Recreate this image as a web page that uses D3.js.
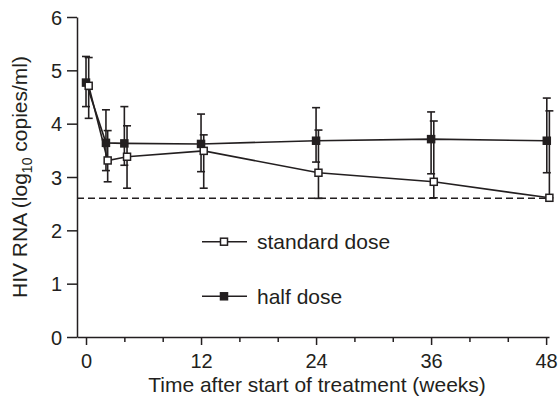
<!DOCTYPE html>
<html>
<head>
<meta charset="utf-8">
<script src="https://cdn.jsdelivr.net/npm/d3@7"></script>
<style>
  body { margin: 0; background: #fff; }
  svg { display: block; font-family: "Liberation Sans", Arial, sans-serif; }
  .axis path, .axis line { stroke: #231f20; stroke-width: 1.5; }
  .axis text { fill: #231f20; font-size: 20px; font-family: "Liberation Sans", Arial, sans-serif; }
</style>
</head>
<body>
<svg id="chart" width="558" height="408"></svg>
<script>
// data
var halfWeeks = [0, 2.08, 4, 12, 24, 36, 48.07];
var halfMean  = [4.77, 3.64, 3.63, 3.62, 3.68, 3.71, 3.68];
var halfUpper = [5.26, 4.26, 4.32, 4.18, 4.30, 4.22, 4.48];
var halfLower = [4.32, 3.12, 3.22, 3.10, 3.28, 3.06, 3.08];

var stdWeeks = [0.28, 2.26, 4.28, 12.28, 24.25, 36.28, 48.34];
var stdMean  = [4.71, 3.31, 3.38, 3.49, 3.08, 2.91, 2.61];
var stdUpper = [5.24, 3.87, 3.96, 3.79, 3.88, 4.05, 4.24];
var stdLower = [4.10, 2.91, 2.79, 2.79, 2.60, 2.61, 2.61];

var detectionLimit = 2.6;
var xTicks = [0, 4, 8, 12, 16, 20, 24, 28, 32, 36, 40, 44, 48];
var yTicks = [0, 1, 2, 3, 4, 5, 6];

var ink = "#231f20";
var svg = d3.select("#chart");

var x = d3.scaleLinear().domain([-0.94, 48.3]).range([77, 549]);
var y = d3.scaleLinear().domain([0, 6]).range([337, 17]);

// y axis
var yAxis = d3.axisLeft(y).tickValues(yTicks).tickFormat(d3.format("d"))
  .tickSize(10).tickSizeOuter(0).tickPadding(5);
svg.append("g").attr("class", "axis")
  .attr("transform", "translate(" + x.range()[0] + ",0)")
  .call(yAxis)
  .call(function(g) { g.selectAll("text").attr("dy", "0.36em"); });

// x axis: major ticks labelled every 12 weeks
var xAxis = d3.axisBottom(x).tickValues(xTicks).tickSizeOuter(0)
  .tickFormat(function(d) { return d % 12 === 0 ? d : ""; });
svg.append("g").attr("class", "axis")
  .attr("transform", "translate(0," + y.range()[0] + ")")
  .call(xAxis)
  .call(function(g) {
    g.selectAll(".tick line").attr("y2", function(d) { return d % 12 === 0 ? 8 : 5; });
    g.selectAll(".tick text").attr("y", 17);
  });

// axis titles
svg.append("text")
  .attr("x", 317).attr("y", 392)
  .attr("text-anchor", "middle")
  .style("font-size", "21px").attr("fill", ink)
  .text("Time after start of treatment (weeks)");

var yl = svg.append("text")
  .attr("transform", "translate(27," + y(3) + ") rotate(-90)")
  .attr("text-anchor", "middle")
  .style("font-size", "21px").attr("fill", ink);
yl.append("tspan").text("HIV RNA (log");
yl.append("tspan").attr("dy", 5).style("font-size", "14px").text("10");
yl.append("tspan").attr("dy", -5).text(" copies/ml)");

// detection limit
svg.append("line")
  .attr("x1", x.range()[0]).attr("x2", x.range()[1])
  .attr("y1", y(detectionLimit)).attr("y2", y(detectionLimit))
  .attr("stroke", ink).attr("stroke-width", 1.5).attr("stroke-dasharray", "7,4");

function series(weeks, mean, upper, lower) {
  var pts = weeks.map(function(w, i) {
    return { w: w, m: mean[i], hi: upper[i], lo: lower[i] };
  });
  var line = d3.line().x(function(d) { return x(d.w); }).y(function(d) { return y(d.m); });
  svg.append("path").datum(pts)
    .attr("d", line).attr("fill", "none")
    .attr("stroke", ink).attr("stroke-width", 1.6);

  var eb = svg.append("g").attr("stroke", ink).attr("stroke-width", 1.6);
  eb.selectAll(".v").data(pts).enter().append("line")
    .attr("x1", function(d) { return x(d.w); }).attr("x2", function(d) { return x(d.w); })
    .attr("y1", function(d) { return y(d.hi); }).attr("y2", function(d) { return y(d.lo); });
  eb.selectAll(".c1").data(pts).enter().append("line")
    .attr("x1", function(d) { return x(d.w) - 4; }).attr("x2", function(d) { return x(d.w) + 4; })
    .attr("y1", function(d) { return y(d.hi); }).attr("y2", function(d) { return y(d.hi); });
  eb.selectAll(".c2").data(pts).enter().append("line")
    .attr("x1", function(d) { return x(d.w) - 4; }).attr("x2", function(d) { return x(d.w) + 4; })
    .attr("y1", function(d) { return y(d.lo); }).attr("y2", function(d) { return y(d.lo); });
  return pts;
}

function markers(pts, filled) {
  svg.append("g").selectAll("rect").data(pts).enter().append("rect")
    .attr("x", function(d) { return x(d.w) - 3.5; })
    .attr("y", function(d) { return y(d.m) - 3.5; })
    .attr("width", 7).attr("height", 7)
    .attr("fill", filled ? ink : "#fff")
    .attr("stroke", ink).attr("stroke-width", 1.5);
}

var halfPts = series(halfWeeks, halfMean, halfUpper, halfLower);
var stdPts = series(stdWeeks, stdMean, stdUpper, stdLower);
markers(halfPts, true);
markers(stdPts, false);

// legend
var legendItems = [
  { label: "standard dose", filled: false, y: 241.7 },
  { label: "half dose", filled: true, y: 296.3 }
];
var lg = svg.append("g").selectAll("g").data(legendItems).enter().append("g")
  .attr("transform", function(d) { return "translate(202," + d.y + ")"; });
lg.append("line").attr("x1", 0).attr("x2", 45)
  .attr("stroke", ink).attr("stroke-width", 1.6);
lg.append("rect").attr("x", 18.5).attr("y", -3.5).attr("width", 7).attr("height", 7)
  .attr("fill", function(d) { return d.filled ? ink : "#fff"; })
  .attr("stroke", ink).attr("stroke-width", 1.5);
lg.append("text").attr("x", 55).attr("dy", "0.36em")
  .style("font-size", "21px").attr("fill", ink)
  .text(function(d) { return d.label; });
</script>
</body>
</html>
